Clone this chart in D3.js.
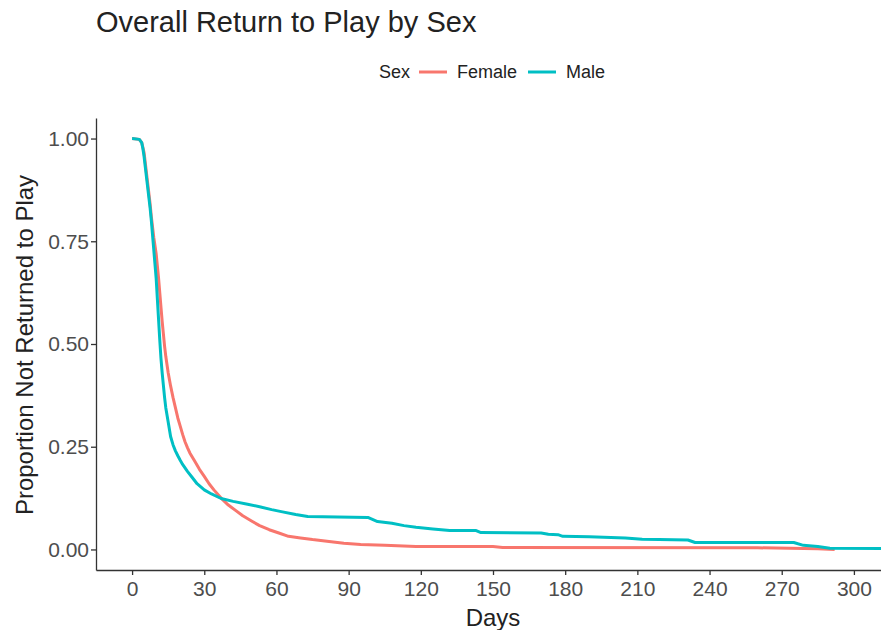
<!DOCTYPE html>
<html>
<head>
<meta charset="utf-8">
<script src="https://cdn.jsdelivr.net/npm/d3@7"></script>
<style>
  body { margin: 0; background: #fff; }
  svg { display: block; font-family: 'Liberation Sans', Arial, sans-serif; }
</style>
</head>
<body>
<div id="chart"></div>
<script>
// Kaplan-Meier style curves
const femaleDays = [0, 3, 4, 4.5, 5, 5.5, 6, 6.5, 7, 7.5, 8, 8.5, 9, 9.5, 10, 10.5, 11, 11.5, 12, 12.5,
  13, 13.5, 14, 15, 16, 17, 18, 19, 20, 21, 22, 23, 24, 26, 28, 30, 32, 34, 37, 40,
  43, 46, 50, 53, 57, 61, 65, 70, 75, 81, 88, 95, 105, 118, 150, 154, 260, 285, 292];
const femaleSurv = [1, 0.998, 0.99, 0.978, 0.965, 0.94, 0.915, 0.89, 0.865, 0.84, 0.81, 0.785, 0.76, 0.74, 0.72, 0.69, 0.66, 0.625, 0.59, 0.555,
  0.525, 0.495, 0.47, 0.43, 0.398, 0.37, 0.345, 0.32, 0.3, 0.28, 0.262, 0.248, 0.235, 0.215, 0.195, 0.178, 0.16, 0.145, 0.125, 0.108,
  0.095, 0.082, 0.068, 0.058, 0.048, 0.04, 0.032, 0.028, 0.024, 0.02, 0.015, 0.012, 0.01, 0.007, 0.007, 0.005, 0.004, 0.002, 0];

const maleDays = [0, 3, 4, 4.5, 5, 5.5, 6, 6.5, 7, 7.5, 8, 8.5, 9, 9.5, 10, 10.5, 11, 11.5, 12, 12.5,
  13, 13.5, 14, 15, 16, 17, 18, 19, 20, 21, 23, 25, 27, 30, 33, 37, 42, 48, 53, 58,
  62, 68, 73, 98, 102, 108, 113, 118, 125, 132, 143, 145, 170, 173, 177, 179, 190, 205, 212, 219,
  231, 234, 275, 279, 285, 290, 320];
const maleSurv = [1, 0.998, 0.99, 0.975, 0.955, 0.93, 0.905, 0.88, 0.855, 0.83, 0.8, 0.765, 0.73, 0.695, 0.66, 0.61, 0.56, 0.51, 0.465, 0.43,
  0.4, 0.37, 0.345, 0.31, 0.275, 0.255, 0.24, 0.228, 0.217, 0.207, 0.19, 0.175, 0.16, 0.145, 0.135, 0.124, 0.117, 0.11, 0.104, 0.097,
  0.092, 0.085, 0.08, 0.078, 0.068, 0.064, 0.058, 0.054, 0.05, 0.046, 0.046, 0.041, 0.04, 0.037, 0.036, 0.032, 0.031, 0.028, 0.025, 0.024,
  0.023, 0.017, 0.017, 0.01, 0.007, 0.003, 0.002];

const xTicks = [0, 30, 60, 90, 120, 150, 180, 210, 240, 270, 300];
const yTicks = [0, 0.25, 0.5, 0.75, 1];
const sexLabels = ['Female', 'Male'];
const sexColors = ['#F8766D', '#00BFC4'];

const width = 881, height = 630;

const svg = d3.select('#chart').append('svg')
  .attr('width', width)
  .attr('height', height);

// scales (ggplot-style 5% expansion, right side cropped by the picture edge)
const xScale = d3.scaleLinear().domain([-15, 315]).range([96, 890]);
const yScale = d3.scaleLinear().domain([-0.05, 1.05]).range([570, 118]);

const line = d3.line()
  .x(d => xScale(d[0]))
  .y(d => yScale(d[1]));

const series = [
  { name: 'Female', points: d3.zip(femaleDays, femaleSurv), color: sexColors[0] },
  { name: 'Male', points: d3.zip(maleDays, maleSurv), color: sexColors[1] }
];

svg.selectAll('.km')
  .data(series)
  .enter().append('path')
  .attr('class', 'km')
  .attr('d', d => line(d.points))
  .attr('fill', 'none')
  .attr('stroke', d => d.color)
  .attr('stroke-width', 3)
  .attr('stroke-linejoin', 'round');

// axes
const xAxis = svg.append('g')
  .attr('transform', 'translate(0,570)')
  .call(d3.axisBottom(xScale).tickValues(xTicks).tickSize(5).tickSizeOuter(0).tickPadding(6));

const yAxis = svg.append('g')
  .attr('transform', 'translate(96,0)')
  .call(d3.axisLeft(yScale).tickValues(yTicks).tickFormat(d3.format('.2f')).tickSize(5).tickSizeOuter(0).tickPadding(2));

[xAxis, yAxis].forEach(g => {
  g.select('.domain').attr('stroke', '#333').attr('stroke-width', 1.3);
  g.selectAll('.tick line').attr('stroke', '#333').attr('stroke-width', 1.3);
  g.selectAll('.tick text')
    .attr('fill', '#4d4d4d')
    .style('font-size', '21px')
    .style('font-family', "'Liberation Sans', Arial, sans-serif");
});

// axis titles
svg.append('text')
  .attr('x', 493)
  .attr('y', 626)
  .attr('text-anchor', 'middle')
  .style('font-size', '24px')
  .attr('fill', '#222')
  .text('Days');

svg.append('text')
  .attr('transform', 'translate(33,345) rotate(-90)')
  .attr('text-anchor', 'middle')
  .style('font-size', '24px')
  .attr('fill', '#222')
  .text('Proportion Not Returned to Play');

// title
svg.append('text')
  .attr('x', 96)
  .attr('y', 32)
  .style('font-size', '29px')
  .attr('fill', '#222')
  .text('Overall Return to Play by Sex');

// legend
const legend = svg.append('g').attr('transform', 'translate(0,72)');
legend.append('text')
  .attr('x', 379)
  .attr('y', 6)
  .style('font-size', '18px')
  .attr('fill', '#222')
  .text('Sex');

const legendX = [419, 528];
sexLabels.forEach((name, i) => {
  legend.append('line')
    .attr('x1', legendX[i]).attr('x2', legendX[i] + 28)
    .attr('y1', 0).attr('y2', 0)
    .attr('stroke', sexColors[i])
    .attr('stroke-width', 3);
  legend.append('text')
    .attr('x', legendX[i] + 38)
    .attr('y', 6)
    .style('font-size', '18px')
    .attr('fill', '#222')
    .text(name);
});
</script>
</body>
</html>
